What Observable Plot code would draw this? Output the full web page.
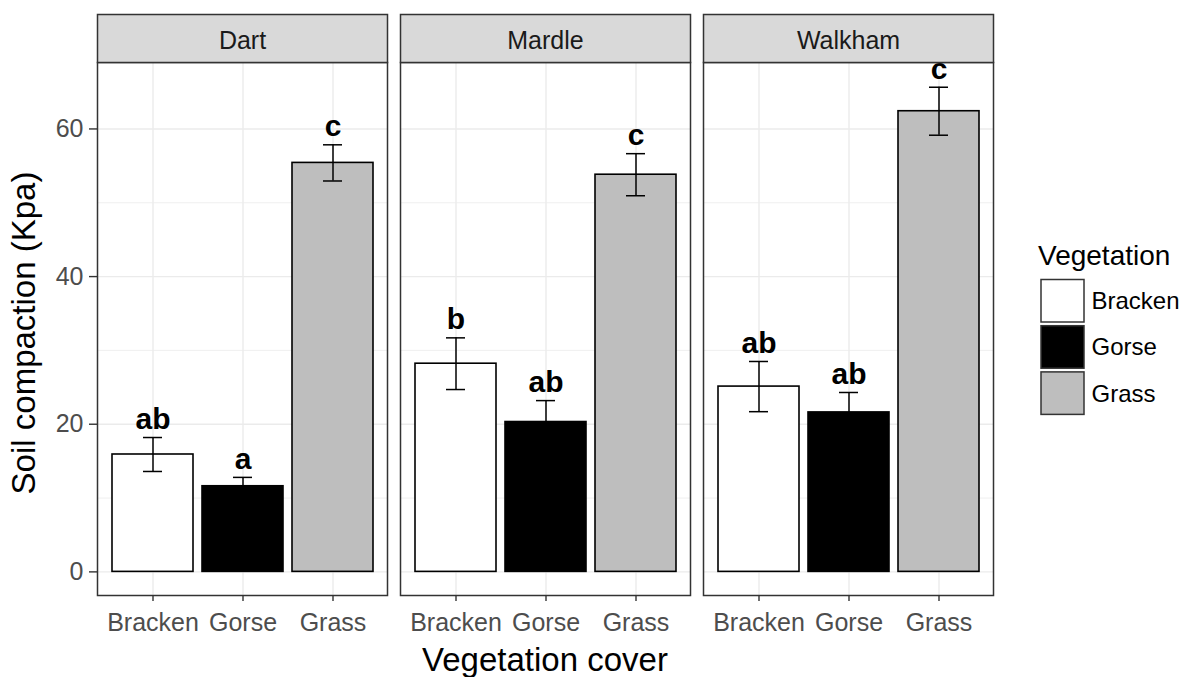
<!DOCTYPE html>
<html>
<head>
<meta charset="utf-8">
<script src="https://cdn.jsdelivr.net/npm/d3@7"></script>
<script src="https://cdn.jsdelivr.net/npm/@observablehq/plot@0.6"></script>
<style>
  body { margin: 0; background: #fff; }
  #wrap { width: 1185px; height: 677px; }
</style>
</head>
<body>
<div id="wrap"></div>
<script>
// ---- data ----
const sites = ["Dart", "Mardle", "Walkham"];
const vegetation = ["Bracken", "Gorse", "Grass"];
const meanDart = [15.9, 11.6, 55.4];
const meanMardle = [28.2, 20.3, 53.8];
const meanWalkham = [25.1, 21.6, 62.4];
const seDart = [2.3, 1.2, 2.45];
const seMardle = [3.5, 2.9, 2.85];
const seWalkham = [3.4, 2.7, 3.25];
const lettersDart = ["ab", "a", "c"];
const lettersMardle = ["b", "ab", "c"];
const lettersWalkham = ["ab", "ab", "c"];
const yTicks = [0, 20, 40, 60];
const yMinor = [10, 30, 50];
const vegFills = ["#ffffff", "#000000", "#bebebe"];
const xTitle = "Vegetation cover";
const yTitle = "Soil compaction (Kpa)";
const legendTitle = "Vegetation";

const means = [meanDart, meanMardle, meanWalkham];
const ses = [seDart, seMardle, seWalkham];
const letters = [lettersDart, lettersMardle, lettersWalkham];
const rows = [];
sites.forEach((s, i) => vegetation.forEach((v, j) => rows.push({
  site: s, veg: v, mean: means[i][j], se: ses[i][j], letter: letters[i][j]
})));

// ---- layout ----
const W = 1185, H = 677;
const mL = 97, mR = 191.7, mT = 62, mB = 82;
const innerH = H - mT - mB;
const stripH = 48;
const font = "'Liberation Sans', Arial, sans-serif";

const chart = Plot.plot({
  width: W, height: H,
  marginLeft: mL, marginRight: mR, marginTop: mT, marginBottom: mB,
  style: {fontFamily: font, background: "white", overflow: "visible"},
  fx: {domain: sites, paddingInner: 0.044, paddingOuter: 0, axis: null, label: null},
  x: {domain: vegetation, paddingInner: 0.1, paddingOuter: 0.15, align: 0.5, label: null},
  y: {domain: [-3.2, 69.0], label: null},
  color: {domain: vegetation, range: vegFills},
  marks: [
    Plot.frame({fill: "white"}),
    Plot.gridY(yMinor, {stroke: "#ebebeb", strokeOpacity: 1, strokeWidth: 0.8}),
    Plot.gridY(yTicks, {stroke: "#ebebeb", strokeOpacity: 1, strokeWidth: 1.4}),
    Plot.gridX(vegetation, {stroke: "#ebebeb", strokeOpacity: 1, strokeWidth: 1.4}),
    Plot.barY(rows, {fx: "site", x: "veg", y: "mean", fill: "veg", stroke: "black", strokeWidth: 1.6}),
    Plot.ruleX(rows, {fx: "site", x: "veg", y1: d => d.mean - d.se, y2: d => d.mean + d.se, stroke: "black", strokeWidth: 1.5}),
    Plot.tickY(rows, {fx: "site", x: "veg", y: d => d.mean - d.se, stroke: "black", strokeWidth: 1.5, insetLeft: 31, insetRight: 31}),
    Plot.tickY(rows, {fx: "site", x: "veg", y: d => d.mean + d.se, stroke: "black", strokeWidth: 1.5, insetLeft: 31, insetRight: 31}),
    Plot.text(rows, {fx: "site", x: "veg", y: d => d.mean + d.se, text: "letter", dy: -18, fontSize: 30, fontWeight: "bold", fill: "black"}),
    Plot.frame({stroke: "#333333", strokeWidth: 1.5}),
    Plot.frame({fill: "#d9d9d9", stroke: "#333333", strokeWidth: 1.5, insetTop: -stripH, insetBottom: innerH}),
    Plot.text(sites, {fx: d => d, text: d => d, frameAnchor: "top", lineAnchor: "middle", dy: -22, fontSize: 25, fill: "#1a1a1a"}),
    Plot.axisY({ticks: yTicks, tickSize: 8, tickPadding: 6, fontSize: 25, fill: "#4d4d4d", stroke: "#333333", strokeWidth: 1.4, label: null}),
    Plot.axisX({tickSize: 6, tickPadding: 12, fontSize: 25, fill: "#4d4d4d", stroke: "#333333", strokeWidth: 1.4, label: null})
  ]
});

const svg = d3.select(chart);
// axis titles
svg.append("text").attr("x", 545).attr("y", 671).attr("text-anchor", "middle")
  .attr("font-family", font).attr("font-size", 33).attr("fill", "black").text(xTitle);
svg.append("text").attr("transform", "translate(35,333) rotate(-90)").attr("text-anchor", "middle")
  .attr("font-family", font).attr("font-size", 33).attr("fill", "black").text(yTitle);

// legend
const color = chart.scale("color");
const lg = svg.append("g").attr("font-family", font).attr("text-anchor", "start");
lg.append("text").attr("x", 1038).attr("y", 265).attr("font-size", 28).attr("fill", "black").text(legendTitle);
vegetation.forEach((v, i) => {
  const y0 = 279.5 + i * 46.2;
  lg.append("rect").attr("x", 1041).attr("y", y0).attr("width", 43).attr("height", 42.5)
    .attr("fill", color.range[i]).attr("stroke", "#333333").attr("stroke-width", 1.5);
  lg.append("text").attr("x", 1091.5).attr("y", y0 + 21.25 + 8.4).attr("font-size", 24).attr("fill", "black").text(v);
});

document.getElementById("wrap").appendChild(chart);
</script>
</body>
</html>
